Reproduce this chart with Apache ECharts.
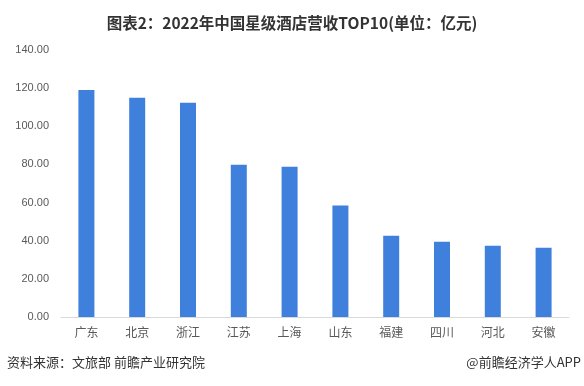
<!DOCTYPE html>
<html><head><meta charset="utf-8">
<script src="https://cdn.jsdelivr.net/npm/echarts@6/dist/echarts.min.js"></script>
<style>html,body{margin:0;padding:0;background:#fff}#c{width:584px;height:386px}</style>
</head><body><div id="c"></div>
<script>
var categories = ['广东','北京','浙江','江苏','上海','山东','福建','四川','河北','安徽'];
var values = [119.0, 115.0, 112.4, 79.8, 78.8, 58.5, 42.6, 39.4, 37.3, 36.3];
var titleText = '图表2：2022年中国星级酒店营收TOP10(单位：亿元)';
var sourceText = '资料来源：文旅部 前瞻产业研究院';
var brandText = '@前瞻经济学人APP';

var chart = echarts.init(document.getElementById('c'));
chart.setOption({
  animation: false,
  backgroundColor: '#fff',
  title: {
    text: titleText, left: 'center', top: 10,
    textStyle: {fontFamily: 'Noto Sans CJK SC', fontSize: 15.5, fontWeight: 'bold', color: '#333'}
  },
  graphic: [
    {type: 'text', left: 7, top: 356, style: {text: sourceText, font: '13px "Noto Sans CJK SC"', fill: '#333'}},
    {type: 'text', right: 3, top: 356, style: {text: brandText, font: '13px "Noto Sans CJK SC"', fill: '#333'}}
  ],
  grid: {left: 61, right: 15, top: 50, bottom: 69},
  xAxis: {
    type: 'category', data: categories,
    axisLine: {lineStyle: {color: '#d9d9d9'}},
    axisTick: {show: false},
    axisLabel: {color: '#595959', fontSize: 12, margin: 9, fontFamily: 'Noto Sans CJK SC'}
  },
  yAxis: {
    type: 'value', min: 0, max: 140, interval: 20,
    splitLine: {show: false},
    axisLine: {show: false}, axisTick: {show: false},
    axisLabel: {color: '#595959', fontSize: 11, margin: 12, fontFamily: 'Liberation Sans',
      formatter: function(v){return v.toFixed(2);}}
  },
  series: [{
    type: 'bar', data: values, barWidth: 16,
    itemStyle: {color: '#3F80DD'}
  }]
});
</script></body></html>
